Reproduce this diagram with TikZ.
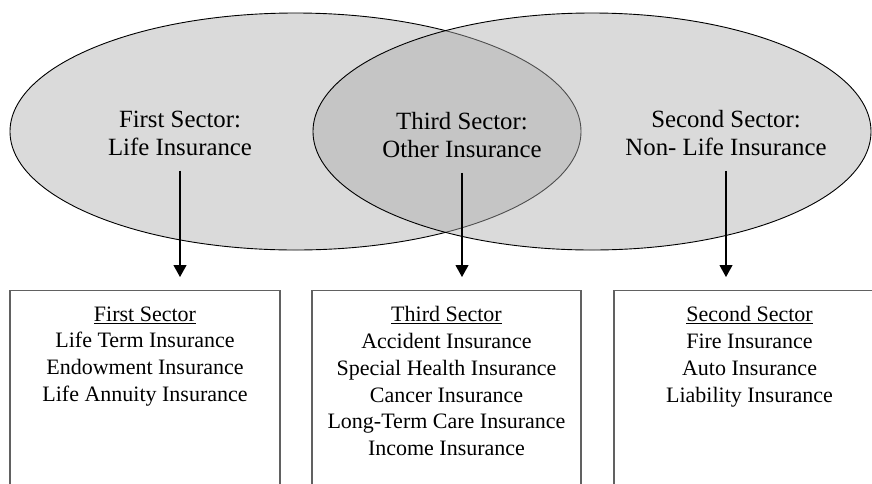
\documentclass[tikz,border=0pt]{standalone}
\usepackage{fontspec}
\setmainfont{Liberation Serif}
\usetikzlibrary{arrows.meta}

\begin{document}
\begin{tikzpicture}
[x=1pt,y=-1pt,
sector/.style={draw=black,line width=0.9pt,fill=black!32,fill opacity=0.45},
label/.style={align=center,inner sep=0pt,font=\fontsize{24.8}{28}\selectfont},
listbox/.style={draw=black!62,line width=1.4pt,anchor=north,inner xsep=0pt,inner ysep=16pt,font=\fontsize{22}{26.7}\selectfont},
arr/.style={-{Triangle[width=13pt,length=12pt]},line width=1.1pt,shorten <=15pt,shorten >=13pt}]
\clip (0,0) rectangle (872,483);
\fill[white] (0,0) rectangle (872,483);
\path[sector] (295.5,131.5) ellipse [x radius=285.5pt,y radius=118.5pt];
\path[sector] (592,131.5) ellipse [x radius=279pt,y radius=118.5pt];
\node[label] (first) at (180,133) {First Sector:\\Life Insurance};
\node[label] (third) at (462,135) {Third Sector:\\Other Insurance};
\node[label] (second) at (726,133) {Second Sector:\\Non- Life Insurance};
\node[listbox] (firstlist) at (145,290) {\parbox[c][220pt][t]{270pt}{\centering
\underline{First Sector}\\Life Term Insurance\\Endowment Insurance\\Life Annuity Insurance}};
\node[listbox] (thirdlist) at (446.5,290) {\parbox[c][220pt][t]{269pt}{\centering
\underline{Third Sector}\\Accident Insurance\\Special Health Insurance\\Cancer Insurance\\Long-Term Care Insurance\\Income Insurance}};
\node[listbox] (secondlist) at (749.5,290) {\parbox[c][220pt][t]{271pt}{\centering
\underline{Second Sector}\\Fire Insurance\\Auto Insurance\\Liability Insurance}};
\foreach \from/\to in {first/firstlist,third/thirdlist,second/secondlist}
\draw[arr] (\from.south) -- (\from.south |- \to.north);
\end{tikzpicture}
\end{document}
